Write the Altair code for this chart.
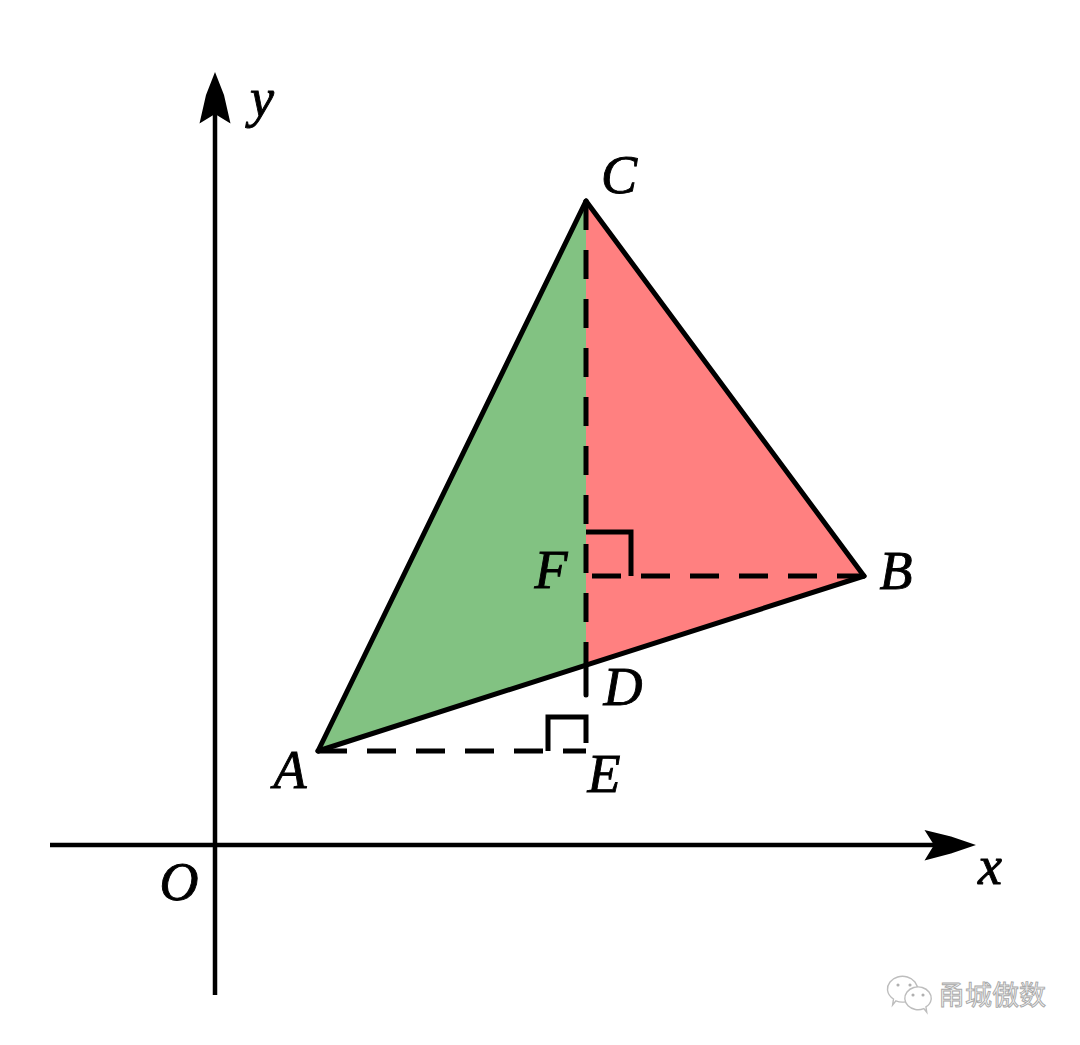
import altair as alt
import pandas as pd

# Geometry points in diagram units (O is the origin)
A = (1.03, 0.94)
B = (6.49, 2.69)
C = (3.71, 6.44)
D = (3.71, 1.80)
E = (3.71, 0.94)
F = (3.71, 2.69)

x_dom = [-2.07, 8.57]
y_dom = [-1.92, 8.37]
W, H = 1064, 1029

X = alt.X("x:Q", scale=alt.Scale(domain=x_dom, nice=False, zero=False), axis=None)
Y = alt.Y("y:Q", scale=alt.Scale(domain=y_dom, nice=False, zero=False), axis=None)

# Filled regions
green_x = [A[0], C[0]]
green_lo = [A[1], D[1]]
green_hi = [A[1], C[1]]
red_x = [C[0], B[0]]
red_lo = [D[1], B[1]]
red_hi = [C[1], B[1]]

def area(xs, lo, hi, color):
    df = pd.DataFrame({"x": xs, "y": lo, "y2": hi})
    return alt.Chart(df).mark_area(color=color, opacity=1, interpolate="linear").encode(x=X, y=Y, y2="y2:Q")

def polyline(points, width=5, dash=None, fill=None, cap="butt"):
    df = pd.DataFrame({"x": [p[0] for p in points], "y": [p[1] for p in points], "i": list(range(len(points)))})
    kw = dict(color="black", strokeWidth=width, strokeCap=cap, strokeJoin="round" if fill else "miter",
              interpolate="linear-closed" if fill else "linear")
    if dash:
        kw["strokeDash"] = dash
    if fill:
        kw["fill"] = fill
        kw["filled"] = True
    return alt.Chart(df).mark_line(**kw).encode(x=X, y=Y, order="i:Q")

# Solid outline
triangle_sides = [[A, C], [C, B], [B, A], [D, (3.71, 1.50)]]
# Right-angle marks
corner_f = [(3.71, 3.13), (4.16, 3.13), (4.16, 2.69)]
corner_e = [(3.33, 0.94), (3.33, 1.28), (3.71, 1.28), (3.71, 1.02)]
# Dashed helpers
dashed = [[C, D], [(3.77, 2.69), B], [A, E]]
# Axes
axis_x = [(-1.65, 0), (7.20, 0)]
axis_y = [(0, -1.50), (0, 7.35)]
head_x = [(7.61, 0), (7.36, 0.085), (7.095, 0.15), (7.19, 0), (7.095, -0.155), (7.36, -0.085)]
head_y = [(0, 7.73), (-0.09, 7.50), (-0.155, 7.215), (0, 7.31), (0.155, 7.215), (0.09, 7.50)]

# Point and axis labels
labels = ["A", "B", "C", "D", "E", "F", "O", "x", "y"]
label_x = [0.75, 6.81, 4.04, 4.08, 3.89, 3.36, -0.36, 7.75, 0.47]
label_y = [0.73, 2.72, 6.68, 1.56, 0.69, 2.73, -0.39, -0.23, 7.45]
lab_df = pd.DataFrame({"x": label_x, "y": label_y, "t": labels})
lab = alt.Chart(lab_df).mark_text(
    font="Liberation Serif", fontStyle="italic", fontSize=54, color="black", stroke="black", strokeWidth=0.9,
    baseline="middle", align="center"
).encode(x=X, y=Y, text="t:N")

# Watermark
wm_df = pd.DataFrame({"x": [7.77], "y": [-1.52], "t": ["甬城傲数"]})
wm = alt.Chart(wm_df).mark_text(
    font="Noto Sans CJK SC", fontSize=27, color="#f4f4f4", stroke="#a8a8a8", strokeWidth=0.9,
    baseline="middle", align="center"
).encode(x=X, y=Y, text="t:N")
bubble_l = "M -0.5 0 A 0.5 0.43 0 1 1 -0.22 0.36 L -0.33 0.5 L -0.3 0.3 A 0.5 0.43 0 0 1 -0.5 0 Z"
bubble_r = "M 0.5 0 A 0.5 0.43 0 1 0 0.22 0.36 L 0.33 0.5 L 0.3 0.3 A 0.5 0.43 0 0 0 0.5 0 Z"
bub_l_df = pd.DataFrame({"x": [6.875], "y": [-1.45]})
bub_r_df = pd.DataFrame({"x": [7.03], "y": [-1.54]})
bub_l = alt.Chart(bub_l_df).mark_point(shape=bubble_l, size=3600, fill="white", filled=True, opacity=1,
                                       stroke="#bdbdbd", strokeWidth=1.4).encode(x=X, y=Y)
bub_r = alt.Chart(bub_r_df).mark_point(shape=bubble_r, size=2800, fill="white", filled=True, opacity=1,
                                       stroke="#bdbdbd", strokeWidth=1.4).encode(x=X, y=Y)
eye_l_df = pd.DataFrame({"x": [6.83, 6.95], "y": [-1.40, -1.40]})
eye_r_df = pd.DataFrame({"x": [6.98, 7.08], "y": [-1.50, -1.50]})
eyes_l = alt.Chart(eye_l_df).mark_circle(size=10, color="#b0b0b0", opacity=1).encode(x=X, y=Y)
eyes_r = alt.Chart(eye_r_df).mark_circle(size=10, color="#b0b0b0", opacity=1).encode(x=X, y=Y)

layers = [area(green_x, green_lo, green_hi, "#82C282"), area(red_x, red_lo, red_hi, "#FF8080")]
layers += [polyline(s, dash=[29, 20]) for s in dashed]
layers += [polyline(s, cap="round") for s in triangle_sides]
layers += [polyline(corner_f), polyline(corner_e)]
layers += [polyline(axis_x, width=4.5), polyline(axis_y, width=4.5)]
layers += [polyline(head_x, width=3, fill="black"), polyline(head_y, width=3, fill="black")]
layers += [lab, bub_l, eyes_l, bub_r, eyes_r, wm]

chart = alt.layer(*layers).properties(
    width=W, height=H, padding=0, background="white",
    autosize=alt.AutoSizeParams(type="none", contains="padding"),
).configure_view(stroke=None)

chart.save("out.html", embed_options={"renderer": "svg", "actions": False})
